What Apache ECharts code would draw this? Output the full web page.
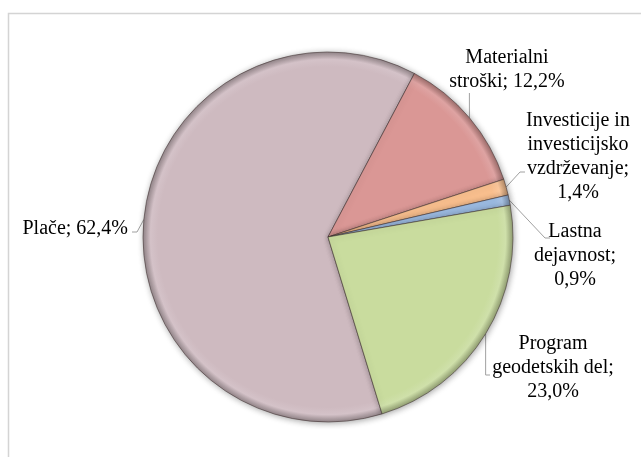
<!DOCTYPE html>
<html>
<head>
<meta charset="utf-8">
<script src="https://cdn.jsdelivr.net/npm/echarts@6/dist/echarts.min.js"></script>
<style>
  html, body { margin: 0; padding: 0; background: #fff; }
  #chart { width: 641px; height: 457px; }
</style>
</head>
<body>
<div id="chart"></div>
<script>
// Budget shares (%)
const categories = ['Plače', 'Materialni stroški', 'Investicije in investicijsko vzdrževanje', 'Lastna dejavnost', 'Program geodetskih del'];
const shares = [62.4, 12.2, 1.4, 0.9, 23.0];
// Label templates with line breaks; {v} is replaced by the share
const labelTemplates = [
  'Plače; {v}',
  'Materialni\nstroški; {v}',
  'Investicije in\ninvesticijsko\nvzdrževanje;\n{v}',
  'Lastna\ndejavnost;\n{v}',
  'Program\ngeodetskih del;\n{v}'
];
const sliceColors = ['#CEBAC0', '#DA9795', '#F9BF8E', '#9DBCE3', '#C9DC9E'];

// Label placement (text block anchor) and leader-line shape
// leader: 'elbow' -> [sector point, bend, end]; 'up' -> straight to label bottom
const labelSpots = [
  { x: 128, y: 229, align: 'right', leader: p => [[137, 232], [132, 232]] },
  { x: 507, y: 70, align: 'center', leader: p => [[p[0], 93]] },
  { x: 578, y: 157, align: 'center', leader: p => [[520, 172], [525, 172]] },
  { x: 575, y: 256, align: 'center', leader: p => [[545, 238], [550, 238]] },
  { x: 553, y: 368, align: 'center', leader: p => [[p[0], 375], [490, 375]] }
];

const CX = 328, CY = 237, R = 185;
const START = -73; // degrees, ECharts convention

function shade(hex, f) {
  const n = parseInt(hex.slice(1), 16);
  let r = (n >> 16) & 255, g = (n >> 8) & 255, b = n & 255;
  const m = v => Math.max(0, Math.min(255, Math.round(f < 0 ? v * (1 + f) : v + (255 - v) * f)));
  return 'rgb(' + m(r) + ',' + m(g) + ',' + m(b) + ')';
}

function fillFor(hex) {
  return {
    type: 'radial', x: CX, y: CY, r: R, global: true,
    colorStops: [
      { offset: 0, color: hex },
      { offset: 0.92, color: hex },
      { offset: 0.96, color: shade(hex, 0.12) },
      { offset: 1, color: shade(hex, -0.28) }
    ]
  };
}

const fmtPct = v => v.toFixed(1).replace('.', ',') + '%';

// Point on the rim at the middle of each slice
const total = shares.reduce((a, b) => a + b, 0);
const rimPoints = [];
{
  let acc = 0;
  shares.forEach(v => {
    const mid = START - (acc + v / 2) / total * 360;
    const rad = mid * Math.PI / 180;
    rimPoints.push([CX + R * Math.cos(rad), CY - R * Math.sin(rad)]);
    acc += v;
  });
}

const data = categories.map((name, i) => ({
  name: name,
  value: shares[i],
  itemStyle: { color: fillFor(sliceColors[i]) },
  label: { formatter: labelTemplates[i].replace('{v}', fmtPct(shares[i])) }
}));

const chart = echarts.init(document.getElementById('chart'), null, { renderer: 'canvas' });
chart.setOption({
  animation: false,
  backgroundColor: '#ffffff',
  graphic: [{
    type: 'rect',
    shape: { x: 8.5, y: 13.5, width: 700, height: 500 },
    style: { fill: 'none', stroke: '#d4d4d4', lineWidth: 1.5 },
    silent: true
  }],
  series: [{
    type: 'pie',
    center: [CX, CY],
    radius: [0, R],
    startAngle: START,
    clockwise: true,
    avoidLabelOverlap: false,
    data: data,
    itemStyle: {
      borderColor: 'rgba(60,45,45,0.6)',
      borderWidth: 0.9,
      shadowBlur: 6,
      shadowOffsetX: 1,
      shadowOffsetY: 1,
      shadowColor: 'rgba(0,0,0,0.35)'
    },
    label: {
      show: true,
      position: 'outside',
      fontFamily: 'Liberation Serif',
      fontSize: 20,
      lineHeight: 24,
      color: '#000',
      align: 'center'
    },
    labelLine: {
      show: true,
      length: 8,
      length2: 6,
      lineStyle: { color: '#a0a0a0', width: 1 }
    },
    labelLayout: function (p) {
      const s = labelSpots[p.dataIndex];
      const start = rimPoints[p.dataIndex];
      return {
        x: s.x, y: s.y, align: s.align, verticalAlign: 'middle',
        labelLinePoints: [start].concat(s.leader(start))
      };
    }
  }]
});
</script>
</body>
</html>
